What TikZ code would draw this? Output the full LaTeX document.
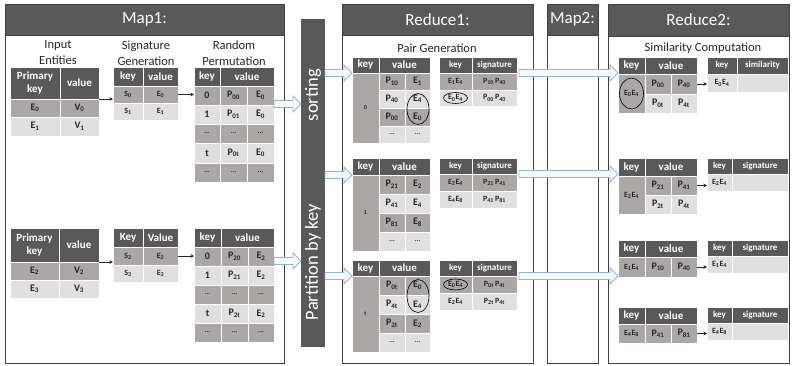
\documentclass[tikz,border=0pt]{standalone}
\usepackage{fontspec}
\setmainfont{Carlito}
\usetikzlibrary{shapes.geometric,arrows.meta,calc}
\definecolor{hdc}{HTML}{595959}
\definecolor{dkc}{HTML}{ABA7A7}
\definecolor{ltc}{HTML}{E0E0E0}
\definecolor{txc}{HTML}{262626}
\definecolor{pnc}{HTML}{404040}
\definecolor{arrb}{HTML}{95B3D7}
\definecolor{arrf}{HTML}{F7FAFD}
\newcommand\sbx[2]{#1\textsubscript{#2}}
\newcommand\dd{{\fontsize{7}{7}\selectfont\textbf{...}}}
\newcommand\tc[7]{\node[#6,minimum width={(#4-#2)*1pt},minimum height={(#5-#3)*1pt}] (#1) at ({(#2+#4)/2},{(#3+#5)/2}) {#7};}
\newcommand\setcols[4]{\def\colA{#1}\def\colB{#2}\def\colC{#3}\def\colD{#4}}
\newcommand\rowt[7]{\tc{#1a}{\colA}{#2}{\colB}{#3}{#4}{#5}\tc{#1b}{\colB}{#2}{\colC}{#3}{#4}{#6}\tc{#1c}{\colC}{#2}{\colD}{#3}{#4}{#7}}
\newcommand\rowtw[6]{\tc{#1a}{\colA}{#2}{\colB}{#3}{#4}{#5}\tc{#1b}{\colB}{#2}{\colC}{#3}{#4}{#6}}
\newcommand\barrow[2]{\draw[barr] let \p1=#1, \p2=#2 in (\x1,{\y1+3.5pt}) -- ({\x2-8pt},{\y1+3.5pt}) -- ({\x2-8pt},{\y1+8pt}) -- (\x2,\y1) -- ({\x2-8pt},{\y1-8pt}) -- ({\x2-8pt},{\y1-3.5pt}) -- (\x1,{\y1-3.5pt}) -- cycle;}
\tikzset{
 tcell/.style={draw=white, line width=0.7pt, inner sep=0pt, outer sep=0pt, align=center, text=txc},
 hd/.style={tcell, fill=hdc, text=white, font=\fontsize{11}{12.5}\selectfont\bfseries},
 hds/.style={hd, font=\fontsize{9}{10}\selectfont\bfseries},
 dk/.style={tcell, fill=dkc, font=\fontsize{10}{11}\selectfont\bfseries},
 lt/.style={tcell, fill=ltc, font=\fontsize{10}{11}\selectfont\bfseries},
 dkm/.style={dk, font=\fontsize{8}{9}\selectfont\bfseries},
 ltm/.style={lt, font=\fontsize{8}{9}\selectfont\bfseries},
 dks/.style={dk, font=\fontsize{8}{9}\selectfont\bfseries},
 lts/.style={lt, font=\fontsize{8}{9}\selectfont\bfseries},
 panel/.style={draw=pnc, line width=0.8pt, fill=white, inner sep=0pt, outer sep=0pt},
 phead/.style={draw=pnc, line width=0.8pt, fill=hdc, text=white, font=\fontsize{17}{17}\selectfont, inner sep=0pt, outer sep=0pt},
 subt/.style={align=center, text=txc, font=\fontsize{12.5}{16}\selectfont},
 ell/.style={draw=black, ellipse, line width=0.6pt, inner sep=0pt},
 barst/.style={fill=hdc, draw=none, inner sep=0pt, outer sep=0pt},
 bartxt/.style={rotate=90, text=white, font=\fontsize{18.5}{19}\selectfont},
 barr/.style={draw=arrb, fill=arrf, line width=0.8pt, line join=miter},
 sarr/.style={draw=txc, line width=0.5pt, -{Stealth[length=3.5pt,width=3.5pt]}},
}
\begin{document}
\begin{tikzpicture}[x=1pt,y=-1pt]
\useasboundingbox (0,0) rectangle (792,365);
% ---------------- Map1 ----------------
\tc{map1}{5}{4}{284}{363}{panel}{}
\tc{map1h}{5}{4}{284}{35}{phead}{Map1:}
\node[subt] (t1) at (58,53) {Input\\Entities};
\node[subt] (t2) at (146,53) {Signature\\Generation};
\node[subt] (t3) at (234,53) {Random\\Permutation};
% input 1
\setcols{10}{60}{99}{0}
\rowtw{in1h}{67}{99}{hd}{Primary\\key}{value}
\rowtw{in1r0}{99}{117}{dk}{\sbx{E}{0}}{\sbx{V}{0}}
\rowtw{in1r1}{117}{136}{lt}{\sbx{E}{1}}{\sbx{V}{1}}
% signature 1
\setcols{113}{143}{178}{0}
\rowtw{sg1h}{67}{86}{hd}{key}{value}
\rowtw{sg1r0}{86}{103}{dkm}{\sbx{S}{0}}{\sbx{E}{0}}
\rowtw{sg1r1}{103}{120}{ltm}{\sbx{S}{1}}{\sbx{E}{1}}
% permutation 1
\tc{pm1hk}{194}{67}{220}{86}{hd}{key}
\tc{pm1hv}{220}{67}{274}{86}{hd}{value}
\setcols{194}{220}{247}{274}
\rowt{pm1r0}{86}{105}{dk}{0}{\sbx{P}{00}}{\sbx{E}{0}}
\rowt{pm1r1}{105}{124}{lt}{1}{\sbx{P}{01}}{\sbx{E}{0}}
\rowt{pm1r2}{124}{143}{dk}{\dd}{\dd}{\dd}
\rowt{pm1r3}{143}{163}{lt}{t}{\sbx{P}{0t}}{\sbx{E}{0}}
\rowt{pm1r4}{163}{182}{dk}{\dd}{\dd}{\dd}
% input 2
\setcols{10}{59}{99}{0}
\rowtw{in2h}{228}{262}{hd}{Primary\\key}{value}
\rowtw{in2r0}{262}{280}{dk}{\sbx{E}{2}}{\sbx{V}{2}}
\rowtw{in2r1}{280}{298}{lt}{\sbx{E}{3}}{\sbx{V}{3}}
% signature 2
\setcols{113}{143}{178}{0}
\rowtw{sg2h}{228}{247}{hd}{Key}{Value}
\rowtw{sg2r0}{247}{265}{dkm}{\sbx{S}{2}}{\sbx{E}{2}}
\rowtw{sg2r1}{265}{282}{ltm}{\sbx{S}{3}}{\sbx{E}{3}}
% permutation 2
\tc{pm2hk}{194}{228}{221}{247}{hd}{key}
\tc{pm2hv}{221}{228}{274}{247}{hd}{value}
\setcols{194}{221}{248}{274}
\rowt{pm2r0}{247}{266}{dk}{0}{\sbx{P}{20}}{\sbx{E}{2}}
\rowt{pm2r1}{266}{285}{lt}{1}{\sbx{P}{21}}{\sbx{E}{2}}
\rowt{pm2r2}{285}{304}{dk}{\dd}{\dd}{\dd}
\rowt{pm2r3}{304}{323}{lt}{t}{\sbx{P}{2t}}{\sbx{E}{2}}
\rowt{pm2r4}{323}{342}{dk}{\dd}{\dd}{\dd}
% small arrows in Map1
\draw[sarr] (in1hb.south east) -- (sg1r0a.west |- in1hb.south east);
\draw[sarr] (sg1r0b.east) -- (pm1r0a.west |- sg1r0b.east);
\draw[sarr] (in2hb.south east) -- (sg2r0a.west |- in2hb.south east);
\draw[sarr] (sg2r0b.east) -- (pm2r0a.west |- sg2r0b.east);
% ---------------- bar ----------------
\tc{bar}{301}{19}{325}{347}{barst}{}
\node[bartxt] (sorttxt) at (313,95) {sorting};
\node[bartxt] (parttxt) at (313,262) {Partition by key};
% ---------------- Reduce1 ----------------
\tc{red1}{342}{4}{533}{363}{panel}{}
\tc{red1h}{342}{4}{533}{35}{phead}{Reduce1:}
\node[subt] (t4) at (437,48) {Pair Generation};
% A1
\tc{a1hk}{352}{57}{379}{73}{hd}{key}
\tc{a1hv}{379}{57}{430}{73}{hd}{value}
\tc{a1k}{352}{73}{379}{143}{dk,font=\fontsize{6}{6}\selectfont\bfseries}{0}
\setcols{379}{405}{430}{0}
\rowtw{a1r0}{73}{90}{dk}{\sbx{P}{10}}{\sbx{E}{1}}
\rowtw{a1r1}{90}{108}{lt}{\sbx{P}{40}}{\sbx{E}{4}}
\rowtw{a1r2}{108}{126}{dk}{\sbx{P}{00}}{\sbx{E}{0}}
\rowtw{a1r3}{126}{143}{lt}{\dd}{\dd}
\node[ell,minimum width=22pt,minimum height=31pt] (a1el) at (418,109) {};
% B1
\setcols{439}{472}{517}{0}
\rowtw{b1h}{57}{73}{hds}{key}{signature}
\rowtw{b1r0}{73}{90}{dks}{\sbx{E}{1}\sbx{E}{4}}{\sbx{P}{10}\,\sbx{P}{40}}
\rowtw{b1r1}{90}{106}{lts}{\sbx{E}{0}\sbx{E}{4}}{\sbx{P}{00}\,\sbx{P}{40}}
\node[ell,minimum width=24pt,minimum height=11pt] (b1el) at (b1r1a) {};
% A2
\tc{a2hk}{352}{158}{379}{175}{hd}{key}
\tc{a2hv}{379}{158}{430}{175}{hd}{value}
\tc{a2k}{352}{175}{379}{251}{dk,font=\fontsize{6}{6}\selectfont\bfseries}{1}
\setcols{379}{405}{430}{0}
\rowtw{a2r0}{175}{194}{dk}{\sbx{P}{21}}{\sbx{E}{2}}
\rowtw{a2r1}{194}{213}{lt}{\sbx{P}{41}}{\sbx{E}{4}}
\rowtw{a2r2}{213}{232}{dk}{\sbx{P}{81}}{\sbx{E}{8}}
\rowtw{a2r3}{232}{251}{lt}{\dd}{\dd}
% B2
\setcols{439}{472}{517}{0}
\rowtw{b2h}{158}{174}{hds}{key}{signature}
\rowtw{b2r0}{174}{191}{dks}{\sbx{E}{2}\sbx{E}{4}}{\sbx{P}{21}\,\sbx{P}{41}}
\rowtw{b2r1}{191}{208}{lts}{\sbx{E}{4}\sbx{E}{8}}{\sbx{P}{41}\,\sbx{P}{81}}
% A3
\tc{a3hk}{352}{260}{379}{276}{hd}{key}
\tc{a3hv}{379}{260}{430}{276}{hd}{value}
\tc{a3k}{352}{276}{379}{352}{dk,font=\fontsize{6}{6}\selectfont\bfseries}{t}
\setcols{379}{405}{430}{0}
\rowtw{a3r0}{276}{295}{dk}{\sbx{P}{0t}}{\sbx{E}{0}}
\rowtw{a3r1}{295}{314}{lt}{\sbx{P}{4t}}{\sbx{E}{4}}
\rowtw{a3r2}{314}{333}{dk}{\sbx{P}{2t}}{\sbx{E}{2}}
\rowtw{a3r3}{333}{352}{lt}{\dd}{\dd}
\node[ell,minimum width=22pt,minimum height=33pt] (a3el) at (418,296) {};
% B3
\setcols{439}{472}{517}{0}
\rowtw{b3h}{260}{276}{hds}{key}{signature}
\rowtw{b3r0}{276}{293}{dks}{\sbx{E}{0}\sbx{E}{4}}{\sbx{P}{0t}\,\sbx{P}{4t}}
\rowtw{b3r1}{293}{310}{lts}{\sbx{E}{2}\sbx{E}{4}}{\sbx{P}{2t}\,\sbx{P}{4t}}
\node[ell,minimum width=24pt,minimum height=11pt] (b3el) at (b3r0a) {};
% ---------------- Map2 ----------------
\tc{map2}{547}{4}{598}{363}{panel}{}
\tc{map2h}{547}{4}{598}{35}{phead}{Map2:}
% ---------------- Reduce2 ----------------
\tc{red2}{608}{4}{789}{363}{panel}{}
\tc{red2h}{608}{4}{789}{36}{phead}{Reduce2:}
\node[subt] (t5) at (703,48) {Similarity Computation};
% C1
\tc{c1hk}{618}{57}{645}{74}{hd}{key}
\tc{c1hv}{645}{57}{697}{74}{hd}{value}
\tc{c1k}{618}{74}{645}{113}{dks}{\sbx{E}{0}\sbx{E}{4}}
\setcols{645}{671}{697}{0}
\rowtw{c1r0}{74}{94}{dk}{\sbx{P}{00}}{\sbx{P}{40}}
\rowtw{c1r1}{94}{113}{lt}{\sbx{P}{0t}}{\sbx{P}{4t}}
\node[ell,minimum width=24pt,minimum height=31pt] (c1el) at (c1k) {};
\setcols{707}{737}{788}{0}
\rowtw{d1h}{57}{74}{hds}{key}{similarity}
\rowtw{d1r0}{74}{92}{lts}{\sbx{E}{0}\sbx{E}{4}}{}
% C2
\tc{c2hk}{618}{158}{645}{176}{hd}{key}
\tc{c2hv}{645}{158}{697}{176}{hd}{value}
\tc{c2k}{618}{176}{645}{214}{dks}{\sbx{E}{2}\sbx{E}{4}}
\setcols{645}{671}{697}{0}
\rowtw{c2r0}{176}{195}{dk}{\sbx{P}{21}}{\sbx{P}{41}}
\rowtw{c2r1}{195}{214}{lt}{\sbx{P}{2t}}{\sbx{P}{4t}}
\setcols{707}{732}{788}{0}
\rowtw{d2h}{158}{174}{hds}{key}{signature}
\rowtw{d2r0}{174}{191}{lts}{\sbx{E}{2}\sbx{E}{4}}{}
% C3
\tc{c3hk}{618}{240}{645}{257}{hd}{key}
\tc{c3hv}{645}{240}{697}{257}{hd}{value}
\tc{c3k}{618}{257}{645}{277}{dks}{\sbx{E}{1}\sbx{E}{4}}
\setcols{645}{671}{697}{0}
\rowtw{c3r0}{257}{277}{dk}{\sbx{P}{10}}{\sbx{P}{40}}
\setcols{707}{732}{788}{0}
\rowtw{d3h}{240}{256}{hds}{key}{signature}
\rowtw{d3r0}{256}{273}{lts}{\sbx{E}{1}\sbx{E}{4}}{}
% C4
\tc{c4hk}{618}{307}{645}{324}{hd}{key}
\tc{c4hv}{645}{307}{697}{324}{hd}{value}
\tc{c4k}{618}{324}{645}{343}{dks}{\sbx{E}{4}\sbx{E}{8}}
\setcols{645}{671}{697}{0}
\rowtw{c4r0}{324}{343}{dk}{\sbx{P}{41}}{\sbx{P}{81}}
\setcols{707}{732}{788}{0}
\rowtw{d4h}{307}{323}{hds}{key}{signature}
\rowtw{d4r0}{323}{340}{lts}{\sbx{E}{4}\sbx{E}{8}}{}
% small arrows in Reduce2
\draw[sarr] (c1r0b.east) -- (d1r0a.west |- c1r0b.east);
\draw[sarr] (c2r0b.east) -- (d2r0a.west |- c2r0b.east);
\draw[sarr] (c3r0b.east) -- (d3r0a.west |- c3r0b.east);
\draw[sarr] (c4r0b.east) -- (d4r0a.west |- c4r0b.east);
% ---------------- block arrows ----------------
\barrow{([yshift=1pt]pm1r0c.south east)}{(bar.west)}
\barrow{([yshift=5pt]pm2r0c.south east)}{(bar.west)}
\barrow{(bar.east |- a1hk.south west)}{(a1hk.south west)}
\barrow{(bar.east |- a2hk.south west)}{(a2hk.south west)}
\barrow{(bar.east |- a3hk.south west)}{(a3hk.south west)}
\barrow{([xshift=2pt]b1hb.south east)}{(c1hk.south west)}
\barrow{([xshift=2pt]b2hb.south east)}{(c2hk.south west)}
\barrow{([xshift=2pt]b3hb.south east)}{(c3hk.south west)}
\end{tikzpicture}
\end{document}
